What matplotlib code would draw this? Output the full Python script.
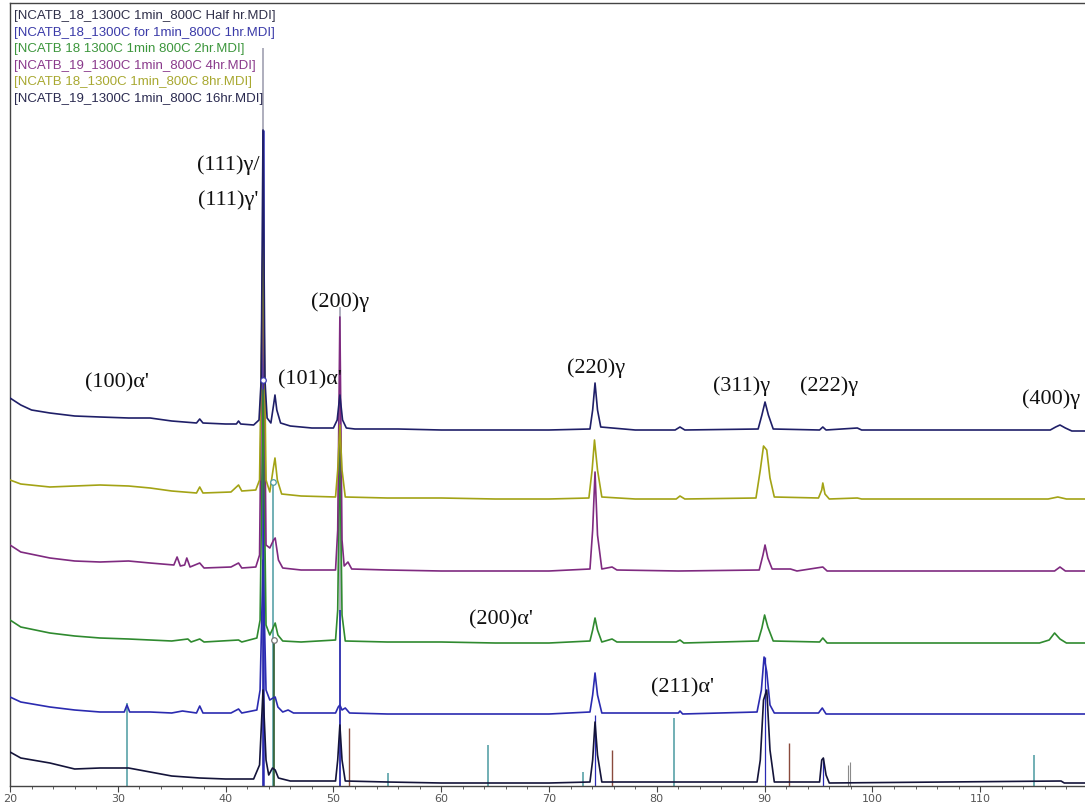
import matplotlib.pyplot as plt
from matplotlib.ticker import MultipleLocator

# Stacked XRD scans, NCATB alloy 1300C/1min then aged at 800C.
# counts are relative to each scan's own baseline; OFFSETS stacks them.
SCAN_LABELS = [
    "[NCATB_18_1300C 1min_800C Half hr.MDI]",
    "[NCATB_18_1300C for 1min_800C 1hr.MDI]",
    "[NCATB 18 1300C 1min 800C 2hr.MDI]",
    "[NCATB_19_1300C 1min_800C 4hr.MDI]",
    "[NCATB 18_1300C 1min_800C 8hr.MDI]",
    "[NCATB_19_1300C 1min_800C 16hr.MDI]",
]
SCAN_COLORS = ["#14143a", "#2b2bb0", "#2f8a2f", "#7f2a80", "#a3a315", "#1f1f68"]
LEGEND_COLORS = ["#30304a", "#3a3aa8", "#3c963c", "#8a3a8c", "#a8a830", "#2a2a50"]
OFFSETS = [0, 70, 142, 214, 286, 354]

tt_half = [20.0, 21.0, 23.7, 26.0, 28.35, 30.0, 31.0, 33.0, 35.0, 37.6, 40.0, 42.6,
           43.15, 43.47, 43.75, 44.0, 44.35, 44.6, 44.9, 46.0, 50.2, 50.4, 50.6, 50.8,
           51.1, 55.0, 60.0, 70.0, 73.8, 74.05, 74.27, 74.5, 74.9, 89.3, 89.6, 89.9,
           90.2, 90.5, 90.9, 95.1, 95.3, 95.45, 95.7, 96.0, 117.5, 117.8, 119.7]
cts_half = [34, 28, 23, 17, 18, 18, 18, 14, 10, 8, 7, 7,
            21, 96, 26, 11, 18, 16, 8, 5, 5, 26, 61, 26,
            5, 4, 3, 3, 4, 26, 64, 31, 4, 4, 26, 86,
            96, 36, 4, 4, 26, 28, 11, 3, 5, 3, 3]

tt_1hr = [20.0, 21.0, 23.7, 26.0, 28.35, 30.6, 30.85, 31.1, 33.0, 35.0, 36.0, 37.3,
          37.6, 37.9, 40.5, 41.2, 41.5, 42.9, 43.2, 43.47, 43.75, 44.1, 44.4, 44.6,
          44.85, 45.3, 45.8, 46.3, 50.2, 50.45, 50.6, 50.8, 51.1, 51.5, 55.0, 60.0,
          70.0, 73.8, 74.05, 74.27, 74.5, 74.9, 82.0, 82.15, 82.4, 89.3, 89.7, 89.95,
          90.2, 90.5, 90.9, 95.0, 95.35, 95.7, 119.7]
cts_1hr = [19, 14, 9, 6, 4, 4, 11, 4, 4, 3, 5, 3,
           10, 3, 3, 7, 3, 6, 26, 156, 26, 16, 18, 19,
           9, 4, 6, 3, 3, 9, 11, 6, 8, 3, 2, 2,
           2, 4, 21, 43, 21, 3, 3, 5, 2, 4, 26, 59,
           44, 11, 3, 3, 8, 2, 2]

tt_2hr = [20.0, 21.0, 23.7, 26.0, 28.35, 31.0, 33.0, 35.0, 36.5, 36.8, 37.6, 38.0,
          41.2, 41.5, 42.9, 43.2, 43.47, 43.75, 44.1, 44.4, 44.6, 44.85, 45.3, 47.0,
          50.2, 50.4, 50.6, 50.8, 51.1, 55.0, 60.0, 65.0, 70.0, 73.8, 74.05, 74.27,
          74.5, 74.9, 75.85, 76.3, 81.8, 82.15, 82.5, 89.4, 89.75, 90.0, 90.3, 90.8,
          95.1, 95.4, 95.8, 115.5, 116.4, 116.9, 117.4, 118.0, 119.7]
cts_2hr = [24, 17, 11, 8, 6, 5, 4, 3, 5, 2, 5, 2,
           4, 2, 6, 24, 254, 19, 9, 16, 21, 9, 3, 2,
           4, 34, 204, 29, 3, 2, 2, 1, 1, 3, 14, 26,
           14, 2, 5, 2, 2, 4, 1, 3, 16, 29, 17, 3,
           2, 6, 1, 1, 4, 11, 5, 1, 1]

tt_4hr = [20.0, 21.0, 23.7, 26.0, 28.35, 31.0, 33.0, 35.2, 35.5, 35.8, 36.2, 36.4,
          36.7, 37.6, 38.0, 40.5, 41.2, 41.5, 42.8, 43.15, 43.47, 43.75, 44.1, 44.45,
          44.6, 44.9, 45.3, 47.0, 50.2, 50.4, 50.6, 50.8, 51.0, 51.35, 51.7, 55.0,
          60.0, 65.0, 70.0, 73.8, 74.05, 74.27, 74.5, 74.9, 75.85, 76.3, 82.0, 89.5,
          89.85, 90.04, 90.3, 90.7, 92.4, 93.0, 95.4, 95.8, 116.9, 117.4, 117.9, 119.7]
cts_4hr = [27, 20, 14, 11, 10, 11, 9, 7, 15, 6, 7, 14,
           5, 9, 4, 5, 9, 4, 5, 17, 339, 27, 24, 32,
           34, 12, 4, 2, 2, 42, 255, 32, 6, 10, 3, 2,
           1, 1, 1, 3, 42, 100, 37, 3, 5, 2, 1, 2,
           17, 27, 14, 3, 3, 1, 5, 1, 1, 5, 1, 1]

tt_8hr = [20.0, 21.0, 23.7, 26.0, 28.35, 31.0, 33.0, 35.0, 37.3, 37.6, 37.9, 40.5,
          41.2, 41.5, 42.8, 43.15, 43.47, 43.75, 44.1, 44.4, 44.58, 44.8, 45.2, 47.0,
          50.2, 50.4, 50.6, 50.8, 51.1, 55.0, 60.0, 65.0, 70.0, 73.7, 74.0, 74.22,
          74.5, 74.9, 78.0, 81.8, 82.15, 82.6, 89.2, 89.6, 89.9, 90.2, 90.5, 90.9,
          95.0, 95.3, 95.4, 95.6, 96.0, 98.6, 99.0, 116.3, 117.2, 118.0, 119.7]
cts_8hr = [20, 16, 13, 14, 15, 14, 12, 9, 7, 13, 7, 8,
           15, 9, 10, 20, 260, 20, 8, 30, 42, 20, 6, 4,
           3, 30, 75, 30, 3, 2, 2, 1, 1, 2, 30, 60,
           30, 3, 1, 1, 4, 1, 2, 30, 54, 50, 22, 3,
           2, 10, 17, 6, 1, 2, 1, 1, 3, 1, 1]

tt_16hr = [20.0, 21.0, 22.0, 23.7, 26.0, 28.35, 31.0, 33.0, 35.0, 37.3, 37.6, 37.9,
           40.0, 41.0, 41.2, 41.4, 42.6, 43.1, 43.3, 43.47, 43.65, 43.85, 44.2, 44.45,
           44.58, 44.75, 45.1, 46.0, 48.0, 50.0, 50.35, 50.6, 50.85, 51.2, 52.0, 56.0,
           60.0, 70.0, 73.8, 74.05, 74.27, 74.5, 74.8, 78.0, 81.7, 82.15, 82.6, 89.4,
           89.75, 90.04, 90.35, 90.8, 95.1, 95.4, 95.7, 98.6, 99.0, 116.5, 117.0, 117.4,
           117.9, 118.5, 119.7]
cts_16hr = [34, 27, 22, 19, 16, 15, 14, 14, 11, 9, 13, 9,
            8, 8, 11, 8, 7, 12, 52, 302, 52, 14, 9, 27,
            37, 22, 9, 6, 4, 4, 12, 37, 12, 4, 3, 3,
            2, 2, 3, 22, 49, 22, 5, 2, 2, 5, 2, 3,
            17, 30, 17, 3, 2, 5, 2, 4, 2, 2, 5, 7,
            4, 1, 1]

SCANS = [(tt_half, cts_half), (tt_1hr, cts_1hr), (tt_2hr, cts_2hr),
         (tt_4hr, cts_4hr), (tt_8hr, cts_8hr), (tt_16hr, cts_16hr)]

# reference stick patterns (position, height)
ref_gray_pos = [43.47, 50.6]
ref_gray_h = [738, 479]
ref_blue_pos = [43.47, 50.6, 74.27, 90.04, 95.4]
ref_blue_h = [656, 176, 71, 129, 28]
ref_teal_pos = [30.85, 44.4, 55.1, 64.35, 73.2, 81.6, 115.0]
ref_teal_h = [83, 304, 13, 41, 14, 68, 31]
ref_green_pos = [44.45]
ref_green_h = [146]
ref_brown_pos = [51.45, 75.85, 92.3]
ref_brown_h = [58, 36, 43]
ref_grey2_pos = [97.7, 97.95]
ref_grey2_h = [21, 24]

# peak labels: (text, 2theta, height)
PEAK_LABELS = [
    ("(111)γ/", 40.2, 621),
    ("(111)γ'", 40.2, 586),
    ("(200)γ", 50.6, 484),
    ("(100)α'", 29.9, 403),
    ("(101)α'", 47.8, 406),
    ("(220)γ", 74.4, 418),
    ("(311)γ", 87.9, 400),
    ("(222)γ", 96.0, 400),
    ("(400)γ", 116.6, 387),
    ("(200)α'", 65.5, 166),
    ("(211)α'", 82.4, 98),
]

fig = plt.figure(figsize=(10.85, 8.07), dpi=100)
ax = fig.add_axes([10 / 1085, 21 / 807, 1075 / 1085, 783 / 807])

for pos, h, col, lw in [
    (ref_gray_pos, ref_gray_h, "#a8a8b8", 1.3),
    (ref_blue_pos, ref_blue_h, "#2a2ab4", [1.8, 1.2, 0.9, 0.9, 0.9]),
    (ref_teal_pos, ref_teal_h, "#4a9aa0", 1.1),
    (ref_green_pos, ref_green_h, "#2e5a2e", 1.2),
    (ref_brown_pos, ref_brown_h, "#8a4a3c", 1.0),
    (ref_grey2_pos, ref_grey2_h, "#8a8a8a", 0.8),
]:
    ax.vlines(pos, 0, h, colors=col, linewidth=lw, zorder=1)

for (tt, cts), off, col in zip(SCANS, OFFSETS, SCAN_COLORS):
    ax.plot(tt, [c + off for c in cts], color=col, linewidth=1.2, zorder=3)

# cursor markers on the 44.4 sticks and the 16 hr (111) peak
ax.plot([43.47], [406], "o", ms=4, mfc="white", mec="#3a3ab0", mew=0.9, zorder=4)
ax.plot([44.4], [304], "o", ms=4, mfc="white", mec="#4a9aa0", mew=0.9, zorder=4)
ax.plot([44.45], [146], "o", ms=4, mfc="white", mec="#777777", mew=0.9, zorder=4)

for text, x, y in PEAK_LABELS:
    ax.text(x, y, text, fontsize=16, family="Liberation Serif",
            ha="center", va="center", color="#111111", zorder=5)

for i, (lab, col) in enumerate(zip(SCAN_LABELS, LEGEND_COLORS)):
    fig.text(14 / 1085, 1 - (16 + i * 16.6) / 807, lab, fontsize=9.5,
             family="Liberation Sans", color=col, ha="left", va="center")

ax.set_xlim(20, 20 + 1075 / 10.78)
ax.set_ylim(0, 783)
ax.xaxis.set_major_locator(MultipleLocator(10))
ax.xaxis.set_minor_locator(MultipleLocator(2))
ax.tick_params(axis="x", which="major", direction="out", length=4, width=0.8,
               labelsize=8, labelcolor="#555555", color="#444444", pad=2)
ax.tick_params(axis="x", which="minor", direction="out", length=2.5, width=0.6,
               color="#444444")
ax.set_yticks([])
ax.spines["right"].set_visible(False)
for s in ("left", "top", "bottom"):
    ax.spines[s].set_color("#444444")
    ax.spines[s].set_linewidth(1.0)

fig.savefig("out.png", dpi=100)
